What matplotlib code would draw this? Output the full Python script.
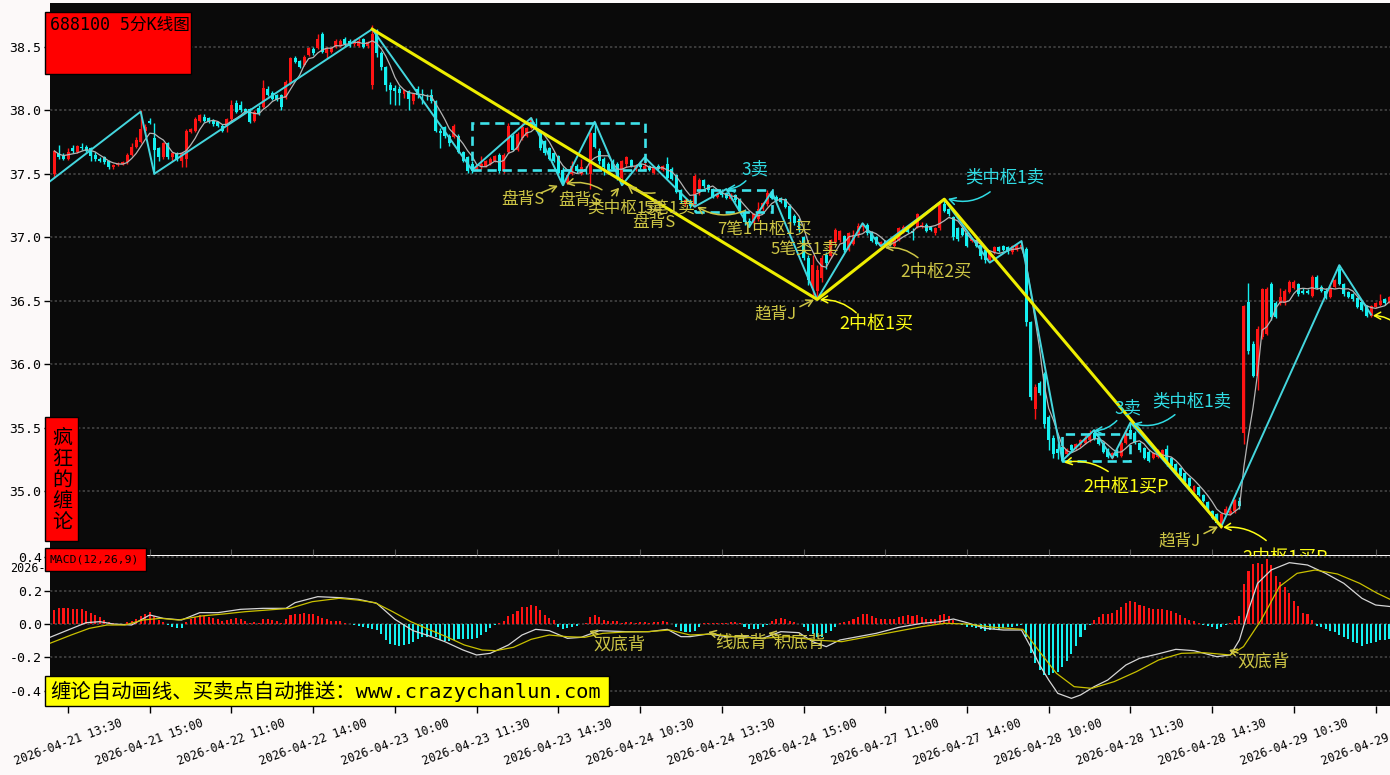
import matplotlib
matplotlib.use("Agg")
import matplotlib.pyplot as plt
from matplotlib.patches import Rectangle
import numpy as np
import pandas as pd

# ---------------- data ----------------
opens = [
 37.50,37.66,37.64,37.62,37.70,37.67,37.71,37.71,37.70,37.65,
 37.62,37.63,37.60,37.55,37.57,37.58,37.59,37.65,37.71,37.75,
 37.84,37.92,37.78,37.70,37.63,37.74,37.63,37.66,37.60,37.62,
 37.83,37.84,37.92,37.95,37.94,37.92,37.91,37.88,37.87,37.93,
 38.06,38.04,38.01,38.01,37.92,38.02,38.03,38.17,38.14,38.12,
 38.12,38.10,38.21,38.41,38.39,38.36,38.44,38.48,38.49,38.60,
 38.45,38.46,38.50,38.51,38.56,38.55,38.52,38.51,38.56,38.51,
 38.20,38.62,38.45,38.34,38.20,38.18,38.17,38.13,38.15,38.07,
 38.17,38.13,38.12,38.12,38.07,37.84,37.87,37.80,37.79,37.80,
 37.67,37.63,37.58,37.53,37.55,37.56,37.58,37.60,37.65,37.52,
 37.67,37.80,37.69,37.78,37.80,37.86,37.89,37.83,37.76,37.70,
 37.66,37.64,37.53,37.43,37.50,37.56,37.50,37.54,37.50,37.82,
 37.68,37.62,37.58,37.60,37.58,37.47,37.58,37.61,37.53,37.58,
 37.53,37.56,37.51,37.56,37.53,37.58,37.54,37.49,37.37,37.26,
 37.28,37.25,37.36,37.45,37.41,37.38,37.32,37.36,37.35,37.30,
 37.33,37.30,37.20,37.13,37.11,37.14,37.22,37.26,37.35,37.32,
 37.31,37.30,37.25,37.17,37.14,37.00,36.84,36.60,36.58,36.68,
 36.86,36.85,36.96,36.98,37.01,36.90,36.95,37.02,37.08,37.10,
 37.04,37.00,36.93,36.97,36.95,36.93,36.98,37.04,37.07,37.05,
 37.08,37.08,37.10,37.08,37.03,37.07,37.26,37.22,37.16,37.07,
 37.07,37.03,36.97,36.98,36.94,36.90,36.82,36.88,36.92,36.93,
 36.92,36.88,36.90,36.92,36.91,36.33,35.65,35.85,35.92,35.58,
 35.42,35.33,35.35,35.29,35.36,35.33,35.36,35.38,35.40,35.46,
 35.42,35.38,35.33,35.26,35.31,35.28,35.38,35.48,35.46,35.38,
 35.34,35.31,35.26,35.27,35.28,35.33,35.26,35.21,35.18,35.14,
 35.10,35.00,35.03,34.97,34.91,34.84,34.82,34.74,34.82,34.82,
 34.84,34.92,35.46,36.49,36.16,35.91,36.21,36.24,36.63,36.48,
 36.48,36.48,36.57,36.60,36.63,36.58,36.58,36.54,36.69,36.61,
 36.58,36.53,36.61,36.75,36.63,36.57,36.55,36.52,36.49,36.46,
 36.38,36.45,36.47,36.51,36.49]
highs = [
 37.69,37.73,37.66,37.70,37.73,37.73,37.74,37.73,37.71,37.67,
 37.63,37.64,37.61,37.58,37.59,37.60,37.66,37.74,37.79,38.00,
 37.89,37.94,37.90,37.71,37.75,37.75,37.67,37.67,37.67,37.85,
 37.86,37.95,37.97,37.97,37.95,37.93,37.92,37.89,37.94,38.08,
 38.08,38.07,38.02,38.02,38.00,38.04,38.24,38.19,38.15,38.13,
 38.13,38.24,38.42,38.43,38.40,38.44,38.50,38.50,38.60,38.62,
 38.50,38.50,38.56,38.56,38.58,38.56,38.56,38.57,38.57,38.55,
 38.67,38.64,38.47,38.35,38.22,38.20,38.19,38.17,38.16,38.14,
 38.19,38.17,38.13,38.17,38.08,37.86,37.88,37.81,37.89,37.81,
 37.68,37.64,37.60,37.57,37.64,37.61,37.63,37.65,37.66,37.66,
 37.90,37.81,37.83,37.90,37.87,37.95,37.94,37.84,37.77,37.71,
 37.67,37.65,37.55,37.50,37.60,37.58,37.62,37.56,37.83,37.91,
 37.70,37.63,37.59,37.62,37.59,37.61,37.64,37.62,37.58,37.60,
 37.63,37.57,37.56,37.58,37.57,37.63,37.55,37.50,37.38,37.30,
 37.30,37.50,37.47,37.46,37.42,37.39,37.36,37.38,37.36,37.35,
 37.34,37.31,37.22,37.15,37.19,37.28,37.28,37.37,37.37,37.33,
 37.32,37.31,37.26,37.18,37.15,37.01,36.86,36.86,36.78,36.86,
 36.88,36.99,37.07,37.06,37.02,37.04,37.06,37.11,37.11,37.11,
 37.05,37.01,36.97,36.98,36.96,37.00,37.08,37.10,37.08,37.07,
 37.19,37.12,37.11,37.09,37.08,37.27,37.30,37.23,37.17,37.08,
 37.08,37.04,37.00,36.99,36.95,36.91,36.89,36.93,36.93,36.94,
 36.93,36.94,36.95,36.97,36.92,36.34,35.84,35.87,35.94,35.60,
 35.44,35.38,35.36,35.34,35.37,35.38,35.41,35.44,35.48,35.48,
 35.43,35.39,35.34,35.31,35.33,35.40,35.48,35.54,35.47,35.39,
 35.35,35.32,35.31,35.33,35.33,35.36,35.27,35.22,35.19,35.15,
 35.11,35.05,35.04,34.98,34.92,34.85,34.83,34.83,34.88,34.90,
 34.94,34.95,36.47,36.64,36.18,36.30,36.60,36.61,36.65,36.50,
 36.60,36.59,36.66,36.66,36.64,36.60,36.59,36.70,36.70,36.62,
 36.60,36.62,36.67,36.78,36.64,36.58,36.56,36.53,36.50,36.47,
 36.47,36.49,36.55,36.52,36.54]
lows = [
 37.47,37.62,37.61,37.61,37.66,37.66,37.69,37.67,37.60,37.60,
 37.59,37.58,37.54,37.54,37.56,37.57,37.58,37.64,37.70,37.74,
 37.82,37.89,37.50,37.60,37.62,37.62,37.60,37.60,37.55,37.55,
 37.82,37.83,37.91,37.91,37.90,37.88,37.87,37.83,37.83,37.92,
 37.98,37.99,37.98,37.90,37.91,37.96,38.02,38.11,38.08,38.07,
 38.00,38.09,38.20,38.37,38.33,38.35,38.43,38.44,38.48,38.45,
 38.41,38.45,38.49,38.50,38.51,38.50,38.51,38.50,38.49,38.49,
 38.17,38.42,38.32,38.15,38.05,38.04,38.04,38.10,38.00,38.05,
 38.10,38.05,38.08,38.06,37.83,37.70,37.78,37.72,37.78,37.66,
 37.59,37.51,37.51,37.52,37.54,37.55,37.57,37.59,37.51,37.51,
 37.66,37.68,37.68,37.77,37.79,37.85,37.84,37.69,37.65,37.61,
 37.59,37.50,37.41,37.42,37.49,37.51,37.49,37.50,37.38,37.70,
 37.58,37.49,37.50,37.53,37.45,37.41,37.55,37.55,37.52,37.54,
 37.52,37.52,37.50,37.53,37.52,37.46,37.45,37.35,37.27,37.25,
 37.23,37.24,37.33,37.39,37.36,37.31,37.31,37.32,37.30,37.29,
 37.28,37.19,37.10,37.08,37.10,37.13,37.21,37.25,37.30,37.28,
 37.27,37.23,37.12,37.10,37.04,36.82,36.62,36.52,36.51,36.65,
 36.75,36.84,36.95,36.96,36.88,36.89,36.94,37.00,37.05,37.02,
 36.96,36.94,36.92,36.93,36.93,36.92,36.97,37.03,37.03,36.98,
 37.07,37.07,37.04,37.05,37.02,37.06,37.20,37.17,36.98,36.97,
 37.01,36.92,36.96,36.92,36.83,36.80,36.81,36.87,36.88,36.89,
 36.87,36.87,36.89,36.91,36.30,35.72,35.57,35.76,35.50,35.32,
 35.26,35.25,35.23,35.28,35.31,35.32,35.35,35.37,35.39,35.40,
 35.36,35.30,35.26,35.25,35.27,35.27,35.37,35.42,35.37,35.31,
 35.25,35.23,35.25,35.26,35.27,35.20,35.19,35.15,35.11,35.07,
 35.03,34.99,34.96,34.91,34.85,34.78,34.74,34.71,34.81,34.81,
 34.83,34.86,35.37,36.08,35.90,35.80,36.20,36.23,36.35,36.36,
 36.47,36.47,36.56,36.59,36.54,36.55,36.55,36.53,36.59,36.57,
 36.51,36.52,36.60,36.62,36.54,36.52,36.50,36.44,36.42,36.37,
 36.37,36.44,36.46,36.47,36.48]
closes = [
 37.68,37.63,37.62,37.67,37.68,37.72,37.70,37.68,37.64,37.62,
 37.60,37.59,37.55,37.57,37.58,37.59,37.65,37.71,37.77,37.85,
 37.87,37.90,37.69,37.63,37.74,37.63,37.66,37.62,37.66,37.84,
 37.85,37.93,37.96,37.92,37.91,37.89,37.88,37.84,37.93,38.04,
 37.99,38.00,37.99,37.91,37.99,37.97,38.18,38.12,38.09,38.08,
 38.03,38.22,38.41,38.38,38.34,38.42,38.49,38.45,38.56,38.46,
 38.49,38.49,38.55,38.55,38.52,38.51,38.55,38.55,38.50,38.54,
 38.60,38.45,38.34,38.20,38.16,38.15,38.14,38.16,38.09,38.13,
 38.12,38.12,38.11,38.07,37.84,37.82,37.80,37.74,37.88,37.67,
 37.60,37.52,37.52,37.56,37.58,37.60,37.62,37.64,37.52,37.65,
 37.88,37.69,37.81,37.87,37.86,37.93,37.85,37.70,37.66,37.62,
 37.60,37.51,37.43,37.49,37.56,37.52,37.55,37.53,37.82,37.71,
 37.60,37.55,37.53,37.54,37.46,37.60,37.63,37.56,37.56,37.55,
 37.56,37.53,37.55,37.54,37.56,37.47,37.46,37.36,37.29,37.29,
 37.25,37.48,37.45,37.40,37.37,37.32,37.34,37.33,37.31,37.33,
 37.29,37.21,37.12,37.11,37.18,37.22,37.27,37.35,37.31,37.29,
 37.28,37.24,37.14,37.11,37.06,36.84,36.66,36.78,36.74,36.84,
 36.80,36.98,37.06,37.05,36.90,37.03,37.02,37.09,37.10,37.03,
 36.97,36.95,36.96,36.94,36.94,36.99,37.07,37.08,37.04,37.03,
 37.18,37.10,37.05,37.06,37.07,37.26,37.21,37.18,37.00,36.99,
 37.02,36.93,36.99,36.93,36.85,36.82,36.88,36.92,36.89,36.90,
 36.88,36.93,36.94,36.94,36.33,35.74,35.82,35.77,35.53,35.40,
 35.29,35.30,35.27,35.33,35.32,35.37,35.40,35.42,35.46,35.41,
 35.37,35.31,35.27,35.30,35.28,35.38,35.46,35.44,35.38,35.32,
 35.26,35.24,35.30,35.31,35.32,35.21,35.20,35.16,35.12,35.08,
 35.04,35.04,34.97,34.92,34.86,34.79,34.75,34.82,34.86,34.84,
 34.93,34.88,36.46,36.10,35.91,36.28,36.59,36.59,36.37,36.37,
 36.53,36.58,36.65,36.65,36.55,36.56,36.56,36.69,36.60,36.58,
 36.52,36.60,36.66,36.63,36.55,36.53,36.51,36.45,36.43,36.38,
 36.46,36.48,36.50,36.48,36.53]

macd_hist = [
 0.084,0.094,0.098,0.094,0.090,0.090,0.088,0.080,0.068,0.054,
 0.040,0.024,0.012,0.006,0.002,0.002,0.014,0.020,0.030,0.048,
 0.060,0.074,0.048,0.024,0.012,-0.008,-0.016,-0.022,-0.022,0.014,
 0.032,0.044,0.052,0.050,0.044,0.036,0.028,0.016,0.024,0.032,
 0.034,0.028,0.016,0.008,0.010,0.008,0.028,0.032,0.024,0.016,
 0.008,0.028,0.052,0.060,0.060,0.068,0.060,0.060,0.048,0.038,
 0.028,0.020,0.020,0.016,0.004,0.002,-0.008,-0.012,-0.020,-0.024,
 -0.032,-0.036,-0.060,-0.096,-0.120,-0.128,-0.132,-0.128,-0.120,-0.106,
 -0.092,-0.080,-0.076,-0.072,-0.076,-0.096,-0.100,-0.100,-0.096,-0.092,
 -0.088,-0.092,-0.092,-0.084,-0.066,-0.046,-0.026,-0.008,0.008,0.018,
 0.048,0.060,0.078,0.100,0.104,0.114,0.110,0.084,0.054,0.034,
 0.024,-0.020,-0.028,-0.026,-0.020,-0.012,0.000,0.008,0.040,0.052,
 0.040,0.024,0.020,0.020,0.016,0.004,0.010,0.010,0.008,0.010,
 0.010,0.008,0.012,0.014,0.020,0.012,0.000,-0.020,-0.040,-0.046,
 -0.046,-0.040,-0.020,0.006,0.004,0.008,0.004,0.008,0.004,0.012,
 0.010,0.004,-0.020,-0.028,-0.032,-0.032,-0.020,-0.006,0.020,0.032,
 0.036,0.032,0.020,0.012,0.000,-0.020,-0.040,-0.060,-0.080,-0.076,
 -0.056,-0.040,-0.020,0.008,0.012,0.018,0.032,0.044,0.060,0.060,
 0.048,0.036,0.032,0.028,0.028,0.032,0.044,0.048,0.052,0.048,
 0.052,0.044,0.032,0.028,0.032,0.052,0.060,0.048,0.024,0.008,
 -0.006,-0.016,-0.020,-0.026,-0.032,-0.040,-0.036,-0.032,-0.028,-0.024,
 -0.020,-0.016,-0.012,-0.008,-0.076,-0.176,-0.236,-0.276,-0.306,-0.306,
 -0.292,-0.286,-0.256,-0.220,-0.180,-0.132,-0.080,-0.036,-0.008,0.024,
 0.040,0.060,0.060,0.068,0.084,0.104,0.128,0.138,0.132,0.114,
 0.108,0.096,0.092,0.088,0.088,0.084,0.076,0.068,0.052,0.036,
 0.024,0.016,0.004,-0.008,-0.012,-0.020,-0.028,-0.020,-0.006,0.008,
 0.024,0.048,0.240,0.320,0.360,0.364,0.360,0.388,0.354,0.288,
 0.254,0.224,0.188,0.140,0.108,0.064,0.060,0.024,-0.012,-0.020,
 -0.032,-0.040,-0.046,-0.066,-0.076,-0.092,-0.106,-0.116,-0.132,-0.120,
 -0.116,-0.106,-0.096,-0.096,-0.088]

dif_idx = [-1,3,7,10,13,17,21,24,28,32,36,41,46,51,53,58,63,67,71,75,
           79,82,86,90,93,96,100,103,106,109,113,116,120,126,131,135,138,140,144,148,
           152,156,160,164,167,170,173,177,181,186,191,195,198,201,205,209,213,215,217,219,
           221,224,226,229,232,236,239,243,247,251,256,259,261,263,265,268,272,276,280,284,
           288,291,294.5]
dif_val = [-0.080,-0.036,0.008,0.014,0.000,-0.006,0.054,0.034,0.024,0.068,
           0.068,0.088,0.094,0.094,0.128,0.164,0.158,0.148,0.124,0.028,
           -0.040,-0.066,-0.106,-0.156,-0.186,-0.176,-0.126,-0.066,-0.032,-0.040,
           -0.086,-0.080,-0.040,-0.046,-0.046,-0.032,-0.076,-0.076,-0.060,-0.076,
           -0.076,-0.086,-0.046,-0.052,-0.106,-0.136,-0.096,-0.076,-0.056,-0.020,
           0.004,0.014,0.030,0.008,-0.026,-0.036,-0.036,-0.136,-0.246,-0.336,
           -0.416,-0.446,-0.426,-0.376,-0.336,-0.246,-0.206,-0.180,-0.152,-0.160,
           -0.196,-0.186,-0.096,0.084,0.244,0.324,0.368,0.354,0.304,0.244,
           0.154,0.114,0.104]
dea_idx = [-1,3.7,7.7,11.6,15.5,19.5,23.4,27.3,32.3,37.2,
           42.1,47,51.9,56.8,62.7,66.7,70.6,74.5,78.5,82.4,
           86.3,90.3,94.2,97.2,101.1,105,109,112.9,116.8,120.8,
           125.7,130.6,135.5,140,144.9,149.8,155.7,161.6,167.5,173.4,
           179.3,185.2,191.1,196.1,201,206.9,213.3,216.7,220.7,224.6,
           228.5,233.4,238.3,243.2,248.2,253.1,259,261.9,265.8,269.8,
           273.7,277.7,282.6,287.5,291.4,294.5]
dea_val = [-0.116,-0.066,-0.026,-0.006,-0.006,0.024,0.034,0.024,0.048,0.060,
           0.074,0.084,0.094,0.134,0.154,0.144,0.128,0.074,0.014,-0.032,
           -0.076,-0.126,-0.156,-0.160,-0.140,-0.092,-0.066,-0.076,-0.080,-0.056,
           -0.048,-0.046,-0.036,-0.066,-0.060,-0.076,-0.086,-0.076,-0.096,-0.106,
           -0.076,-0.046,-0.016,0.004,0.000,-0.020,-0.032,-0.156,-0.296,-0.376,
           -0.386,-0.346,-0.286,-0.216,-0.176,-0.172,-0.186,-0.136,0.024,0.224,
           0.304,0.324,0.300,0.244,0.184,0.144]

# strokes (bi) and segment (xianduan) pivots: (bar index, price)
bi_idx = [-1,19,22,70,92,105,112,119,125,130,141,148,153,158,168,178,182,196,206,213,222,229,233,237,257,283,290]
bi_val = [37.44,37.99,37.50,38.64,37.53,37.94,37.41,37.91,37.41,37.63,37.24,37.38,37.08,37.36,36.51,37.11,36.93,37.30,36.80,36.97,35.24,35.48,35.26,35.54,34.72,36.78,36.39]
seg_idx = [70,168,196,257]
seg_val = [38.64,36.51,37.30,34.72]

# pivot zones (zhongshu)
zs_left = [92,141,222]
zs_right = [130,158,237]
zs_low = [37.53,37.20,35.24]
zs_high = [37.90,37.37,35.45]

xtick_pos = [3 + 18 * k for k in range(17)]
xtick_labels = ['2026-04-21 13:30','2026-04-21 15:00','2026-04-22 11:00','2026-04-22 14:00',
                '2026-04-23 10:00','2026-04-23 11:30','2026-04-23 14:30','2026-04-24 10:30',
                '2026-04-24 13:30','2026-04-24 15:00','2026-04-27 11:00','2026-04-27 14:00',
                '2026-04-28 10:00','2026-04-28 11:30','2026-04-28 14:30','2026-04-29 10:30',
                '2026-04-29 13:30']
price_ticks = [35.0,35.5,36.0,36.5,37.0,37.5,38.0,38.5]
macd_ticks = [-0.4,-0.2,0.0,0.2,0.4]

# ---------------- style ----------------
BG = '#0a0a0a'
RED = '#ff1414'
CYAN = '#14f0f0'
BI = '#44d6de'
SEG = '#eeee00'
OLIVE = '#cdc545'
YEL = '#ffff14'
CTXT = '#30dce4'
GRID = '#3c3c3c'
CJK = ['Noto Sans CJK SC', 'DejaVu Sans']
MONO = ['DejaVu Sans Mono', 'Noto Sans CJK SC']

W, H = 1390, 775
fig = plt.figure(figsize=(W / 100, H / 100), dpi=100)
fig.patch.set_facecolor('#fcf9f9')

def fx(px):
    return px / W

def fy(py):
    return 1 - py / H

ax = fig.add_axes([fx(50), fy(555), fx(1340), 552 / H])
axm = fig.add_axes([fx(50), fy(706), fx(1340), 150 / H])

for a in (ax, axm):
    a.set_facecolor(BG)
    for sp in a.spines.values():
        sp.set_visible(False)
    a.set_xlim(-0.97, 294.17)
    a.set_xticks(xtick_pos)

ax.set_ylim(34.496, 38.846)
axm.set_ylim(-0.492, 0.408)

# ---------------- candles ----------------
o = np.array(opens); h = np.array(highs); l = np.array(lows); c = np.array(closes)
idx = np.arange(len(c))
up = c >= o
cols = np.where(up, RED, CYAN)
ax.vlines(idx, l, h, colors=cols, lw=1.0, zorder=3)
body_b = np.minimum(o, c)
body_h = np.maximum(np.abs(c - o), 0.008)
ax.bar(idx, body_h, bottom=body_b, width=0.66, color=cols, lw=0, zorder=4)

ma = pd.Series(c).rolling(5, min_periods=1).mean()
ax.plot(idx, ma, color='#b4b4b4', lw=0.9, zorder=5)

ax.plot(bi_idx, bi_val, color=BI, lw=1.4, zorder=6)
ax.plot(seg_idx, seg_val, color=SEG, lw=2.2, zorder=7)

for x0, x1, y0, y1 in zip(zs_left, zs_right, zs_low, zs_high):
    ax.add_patch(Rectangle((x0, y0), x1 - x0, y1 - y0, fill=False, ec='#3ee2ea',
                           lw=1.9, ls=(0, (3.5, 2.2)), zorder=6))

# ---------------- axes ticks / grid ----------------
ax.set_yticks(price_ticks)
ax.set_yticklabels([f'{v:.1f}' for v in price_ticks], family=MONO, fontsize=9.5)
ax.tick_params(axis='y', length=4, width=1, color='black', pad=2, labelcolor='black')
ax.tick_params(axis='x', direction='in', length=4, color='#555555', labelbottom=False)
ax.grid(axis='y', color=GRID, ls=(0, (1.2, 1.2)), lw=1.4, zorder=1)

axm.set_yticks(macd_ticks)
axm.set_yticklabels([f'{v:.1f}' for v in macd_ticks], family=MONO, fontsize=9.5)
axm.tick_params(axis='y', length=4, width=1, color='black', pad=2)
axm.set_xticklabels(xtick_labels, rotation=20, ha='center', family=MONO, fontsize=8.5)
axm.tick_params(axis='x', length=5, width=1, color='black', pad=3)
axm.grid(axis='y', color=GRID, ls=(0, (1.2, 1.2)), lw=1.4, zorder=1)

# ---------------- MACD ----------------
hist = np.array(macd_hist)
axm.bar(idx, hist, width=0.45, color=np.where(hist >= 0, RED, CYAN), lw=0, zorder=3)
axm.plot(dif_idx, dif_val, color='#d6d6d6', lw=0.9, zorder=4)
axm.plot(dea_idx, dea_val, color='#c9c000', lw=0.9, zorder=4)

# ---------------- annotations ----------------
def note(a, text, color, size, tx, ty, arrow=None, rad=0.0):
    a.text(tx, ty, text, color=color, fontsize=size, ha='center', va='center',
           family=CJK, zorder=9)
    if arrow is not None:
        x0, y0, x1, y1 = arrow
        a.annotate('', xy=(x1, y1), xytext=(x0, y0), zorder=9,
                   arrowprops=dict(arrowstyle='->,head_length=0.45,head_width=0.25',
                                   color=color, lw=1.1, shrinkA=0, shrinkB=0,
                                   connectionstyle=f'arc3,rad={rad}'))

main_notes = [
    ('盘背S', OLIVE, 12, 103.2, 37.295, (107.2, 37.35, 110.9, 37.406), 0.0),
    ('盘背S', OLIVE, 12, 115.8, 37.287, (120.6, 37.374, 112.7, 37.421), 0.2),
    ('类中枢1卖', OLIVE, 12, 125.7, 37.232, (122.8, 37.327, 124.4, 37.39), 0.0),
    ('5笔1卖', OLIVE, 12, 135.4, 37.232, (132.3, 37.35, 126.3, 37.405), -0.2),
    ('盘背S', OLIVE, 12, 132.1, 37.114, None, 0.0),
    ('7笔1中枢1买', OLIVE, 12, 156.3, 37.067, (152.1, 37.21, 141.6, 37.24), -0.25),
    ('5笔类1卖', OLIVE, 12, 165.3, 36.91, None, 0.0),
    ('3卖', CTXT, 12.5, 154.3, 37.531, (152.3, 37.445, 148.1, 37.382), -0.2),
    ('趋背J', OLIVE, 12, 158.9, 36.398, (164.2, 36.453, 167.3, 36.508), 0.0),
    ('2中枢1买', YEL, 13, 180.97, 36.311, (176.6, 36.405, 168.6, 36.508), 0.2),
    ('2中枢2买', OLIVE, 12.5, 194.2, 36.728, (190.2, 36.839, 182.9, 36.917), 0.2),
    ('类中枢1卖', CTXT, 12.5, 209.4, 37.469, (206.1, 37.358, 196.8, 37.303), -0.25),
    ('3卖', CTXT, 12.5, 236.5, 35.65, (234.0, 35.555, 229.0, 35.476), -0.2),
    ('类中枢1卖', CTXT, 12.5, 250.4, 35.705, (246.8, 35.602, 237.6, 35.531), -0.25),
    ('2中枢1买P', YEL, 13, 236.0, 35.028, (232.1, 35.154, 222.4, 35.224), 0.2),
    ('趋背J', OLIVE, 12, 247.9, 34.61, (253.2, 34.665, 256.3, 34.72), 0.0),
    ('2中枢1买P', YEL, 13, 271.1, 34.47, (266.9, 34.61, 257.4, 34.713), 0.2),
]
for t, col, sz, tx, ty, arr, rad in main_notes:
    note(ax, t, col, sz, tx, ty, arr, rad)

ax.annotate('', xy=(290.4, 36.382), xytext=(295.9, 36.303), zorder=9,
            arrowprops=dict(arrowstyle='->,head_length=0.45,head_width=0.25', color=YEL,
                            lw=1.1, shrinkA=0, shrinkB=0, connectionstyle='arc3,rad=0.2'))

macd_notes = [
    ('双底背', OLIVE, 12.5, 124.4, -0.126, (119.7, -0.060, 117.8, -0.042)),
    ('线底背', OLIVE, 12.5, 151.2, -0.114, (145.7, -0.060, 144.0, -0.048)),
    ('积底背', OLIVE, 12.5, 164.2, -0.114, (159.2, -0.066, 157.2, -0.054)),
    ('双底背', OLIVE, 12.5, 266.2, -0.228, (260.7, -0.174, 258.7, -0.156)),
]
for t, col, sz, tx, ty, arr in macd_notes:
    note(axm, t, col, sz, tx, ty, arr, 0.0)

# ---------------- label boxes ----------------
fig.add_artist(Rectangle((fx(45), fy(74)), fx(146), 62 / H, transform=fig.transFigure,
                         fc='#ff0000', ec='black', lw=1, zorder=10))
fig.text(fx(50), fy(25), '688100 5分K线图', ha='left', va='center', fontsize=12,
         family=MONO, color='black', zorder=11)

fig.add_artist(Rectangle((fx(45), fy(541)), fx(33), 124 / H, transform=fig.transFigure,
                         fc='#ff0000', ec='black', lw=1, zorder=10))
fig.text(fx(62), fy(480), '疯\n狂\n的\n缠\n论', ha='center', va='center', fontsize=14.5,
         family=CJK, color='black', linespacing=1.0, zorder=11)

fig.text(fx(46), fy(569), '2026-', ha='right', va='center', fontsize=8.5,
         family=MONO, color='black', zorder=9)
fig.add_artist(Rectangle((fx(45), fy(571)), fx(101), 23 / H, transform=fig.transFigure,
                         fc='#ff0000', ec='black', lw=1, zorder=10))
fig.text(fx(49), fy(559.5), 'MACD(12,26,9)', ha='left', va='center', fontsize=8.2,
         family=MONO, color='black', zorder=11)

fig.add_artist(Rectangle((fx(45), fy(706)), fx(564), 30 / H, transform=fig.transFigure,
                         fc='#ffff00', ec='black', lw=1, zorder=10))
fig.text(fx(50), fy(691), '缠论自动画线、买卖点自动推送：www.crazychanlun.com', ha='left',
         va='center', fontsize=14.7, family=MONO, color='black', zorder=11)

fig.savefig('out.png', dpi=100, facecolor=fig.get_facecolor())
